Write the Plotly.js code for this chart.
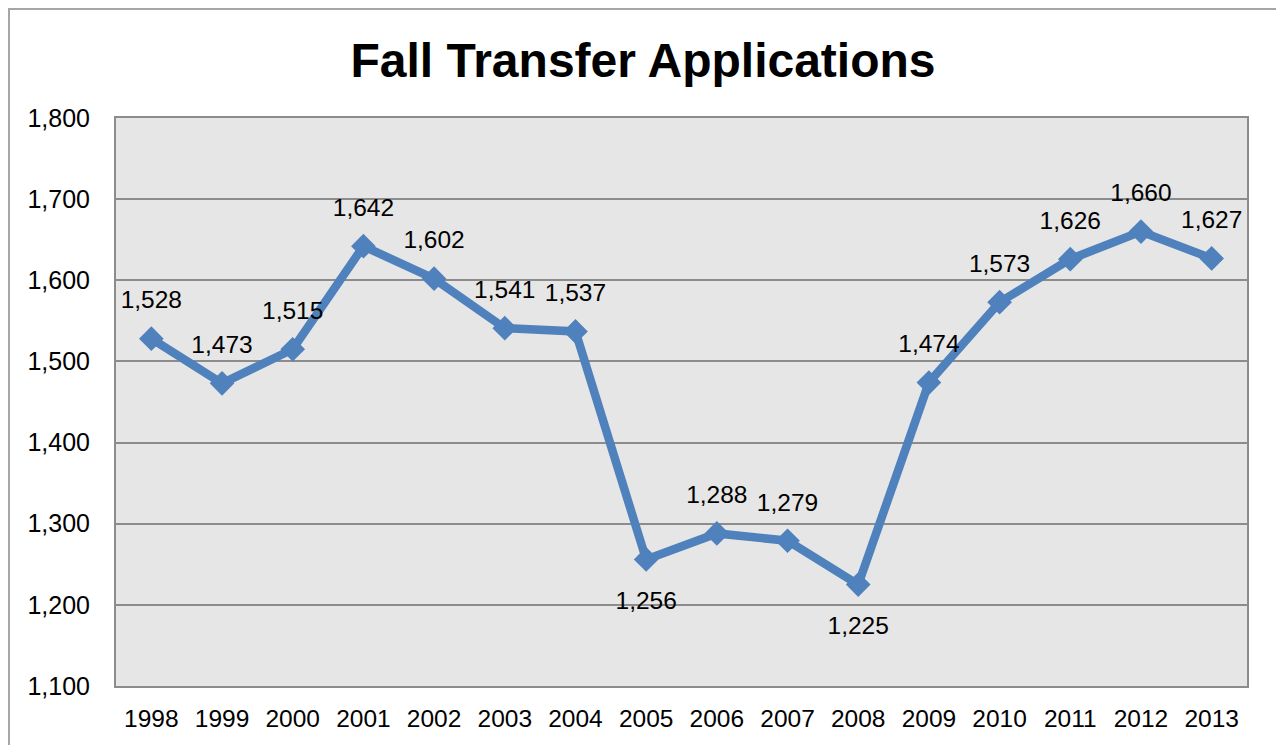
<!DOCTYPE html>
<html>
<head>
<meta charset="utf-8">
<script src="https://cdn.plot.ly/plotly-3.0.1.min.js"></script>
<style>html,body{margin:0;padding:0;background:#fff;}#chart{width:1276px;height:745px;}</style>
</head>
<body>
<div id="chart"></div>
<script>
const years = ["1998","1999","2000","2001","2002","2003","2004","2005","2006","2007","2008","2009","2010","2011","2012","2013"];
const applications = [1528,1473,1515,1642,1602,1541,1537,1256,1288,1279,1225,1474,1573,1626,1660,1627];
const labelBelow = ["2005","2008"];
const yTickVals = [1100,1200,1300,1400,1500,1600,1700,1800];

const fmt = v => v.toLocaleString('en-US');
const FONT = 'Liberation Sans, Arial, sans-serif';

const lineTrace = {
  x: years,
  y: applications,
  type: 'scatter',
  mode: 'lines+markers',
  line: {color: '#4F81BD', width: 8.5},
  marker: {symbol: 'diamond', size: 19, color: '#4F81BD'},
  cliponaxis: false,
  hoverinfo: 'x+y'
};

const aboveIdx = years.map((y, i) => i).filter(i => !labelBelow.includes(years[i]));
const belowIdx = years.map((y, i) => i).filter(i => labelBelow.includes(years[i]));

function labelTrace(idx, pos, size) {
  return {
    x: idx.map(i => years[i]),
    y: idx.map(i => applications[i]),
    type: 'scatter',
    mode: 'markers+text',
    marker: {size: size, color: 'rgba(0,0,0,0)'},
    text: idx.map(i => fmt(applications[i])),
    textposition: pos,
    textfont: {family: FONT, size: 24.5, color: '#000'},
    cliponaxis: false,
    hoverinfo: 'skip'
  };
}

const layout = {
  width: 1276, height: 745,
  margin: {l: 116, r: 29, t: 118, b: 59},
  paper_bgcolor: '#ffffff',
  plot_bgcolor: '#E6E6E6',
  showlegend: false,
  title: {
    text: '<b>Fall Transfer Applications</b>',
    font: {family: FONT, size: 48, color: '#000'},
    x: 643/1276, xanchor: 'center', xref: 'container',
    y: 1 - 60/745, yanchor: 'middle', yref: 'container'
  },
  xaxis: {
    type: 'category',
    range: [-0.5, 15.5],
    showgrid: false,
    showline: true, mirror: true, linecolor: '#8c8c8c', linewidth: 2,
    ticks: '', ticklabelstandoff: 10,
    tickfont: {family: FONT, size: 24.5, color: '#000'},
    zeroline: false
  },
  yaxis: {
    range: [1100, 1800],
    tickvals: yTickVals,
    ticktext: yTickVals.map(fmt),
    showgrid: true, gridcolor: '#8c8c8c', gridwidth: 2,
    showline: true, mirror: true, linecolor: '#8c8c8c', linewidth: 2,
    ticks: '', ticklabelstandoff: 19,
    tickfont: {family: FONT, size: 25, color: '#000'},
    zeroline: false
  },
  shapes: [{
    type: 'rect', xref: 'paper', yref: 'paper',
    x0: (9-116)/1131, x1: (1290-116)/1131,
    y0: (686-760)/568, y1: (686-9)/568,
    line: {color: '#a6a6a6', width: 2},
    fillcolor: 'rgba(0,0,0,0)',
    layer: 'below'
  }]
};

Plotly.newPlot('chart', [lineTrace, labelTrace(aboveIdx, 'top center', 37), labelTrace(belowIdx, 'bottom center', 48)], layout, {displayModeBar: false, staticPlot: true});
</script>
</body>
</html>
